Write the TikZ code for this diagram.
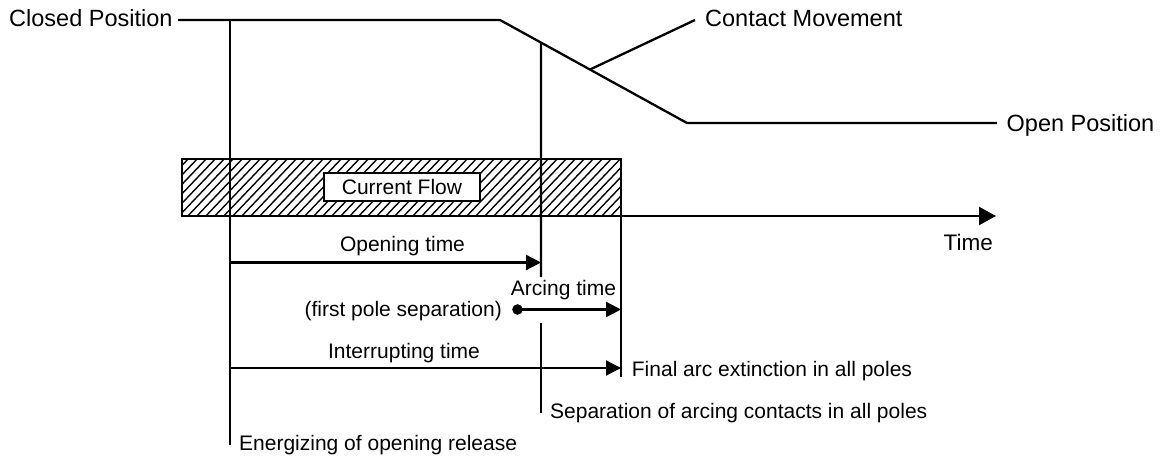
\documentclass[tikz,border=0pt]{standalone}
\usepackage{fontspec}
\setmainfont{Liberation Sans}
\usetikzlibrary{arrows.meta,calc}
\begin{document}
\begin{tikzpicture}[x=1pt,y=1pt,
  ln/.style={line width=2.3pt,black},
  tarrow/.style={ln,-{Triangle[length=15pt,width=15pt]}},
  axarrow/.style={ln,-{Triangle[length=17pt,width=18pt]}},
  hatch/.style={line width=1.4pt,black},
  bigtxt/.style={inner sep=0pt,font=\fontsize{23.5}{28}\selectfont},
  smtxt/.style={inner sep=0pt,font=\fontsize{21}{25}\selectfont}]
\useasboundingbox (0,0) rectangle (1164,-457);
% contact movement curve
\coordinate (cl0) at (178,-20);
\coordinate (cpA) at (500,-20);
\coordinate (cpB) at (687,-123);
\coordinate (op1) at (997,-123);
\coordinate (sep) at ($(cpA)!0.219!(cpB)$);
\coordinate (cmv) at ($(cpA)!0.481!(cpB)$);
\coordinate (cmt) at (695,-20);
\node[bigtxt,anchor=base west] (closed) at (9,-26.5) {Closed Position};
\node[bigtxt,anchor=base west] (cm) at (705,-26.3) {Contact Movement};
\node[bigtxt,anchor=base west] (open) at (1006.5,-131.5) {Open Position};
\draw[ln] (cl0) -- (cpA) -- (cpB) -- (op1);
\draw[ln] (cmv) -- (cmt);
% current flow box
\coordinate (bx1) at (182,-159);
\coordinate (bx2) at (621,-216);
\begin{scope}
  \clip (bx1) rectangle (bx2);
  \foreach \i in {0,...,56}
    \draw[hatch] (182+9*\i-60,-219) -- (182+9*\i,-156);
\end{scope}
\draw[line width=1.8pt] (bx1) rectangle (bx2);
% time axis
\coordinate (ax0) at (182,-216);
\coordinate (ax1) at (996,-216);
\draw[axarrow] (ax0) -- (ax1);
\node[bigtxt,anchor=base east,font=\fontsize{22.5}{27}\selectfont] (time) at (993,-250) {Time};
% verticals
\coordinate (v1t) at (230,-20);
\coordinate (v1b) at (230,-445);
\draw[ln] (v1t) -- (v1b);
\coordinate (v2a) at (541,-277);
\coordinate (v2b) at (541,-323);
\coordinate (v2e) at (541,-413);
\draw[ln] (sep) -- (v2a);
\draw[ln] (v2b) -- (v2e);
\coordinate (v3t) at (621,-159);
\coordinate (v3b) at (621,-377);
\draw[ln] (v3t) -- (v3b);
\node[smtxt,draw,line width=1.8pt,fill=white,minimum width=156pt,minimum height=27.5pt] (cf) at (402,-187) {Current Flow};
% timing arrows
\coordinate (ot0) at (230,-262.5);
\coordinate (ot1) at (541,-262.5);
\draw[tarrow] (ot0) -- (ot1);
\node[smtxt,anchor=base] (otl) at (402.5,-251.5) {Opening time};
\fill (517.5,-309.5) circle (5.3pt) coordinate (dot);
\coordinate (at1) at (621,-309.5);
\draw[tarrow] (dot) -- (at1);
\node[smtxt,anchor=base] (atl) at (563.5,-295.7) {Arcing time};
\node[smtxt,anchor=base east] (fps) at (502,-316.5) {(first pole separation)};
\coordinate (it0) at (230,-368);
\coordinate (it1) at (621,-368);
\draw[tarrow] (it0) -- (it1);
\node[smtxt,anchor=base] (itl) at (404,-358.3) {Interrupting time};
\node[smtxt,anchor=base west] (fae) at (631.7,-376.7) {Final arc extinction in all poles};
\node[smtxt,anchor=base west] (sac) at (550,-418) {Separation of arcing contacts in all poles};
\node[smtxt,anchor=base west] (eor) at (239,-450) {Energizing of opening release};
\end{tikzpicture}
\end{document}
